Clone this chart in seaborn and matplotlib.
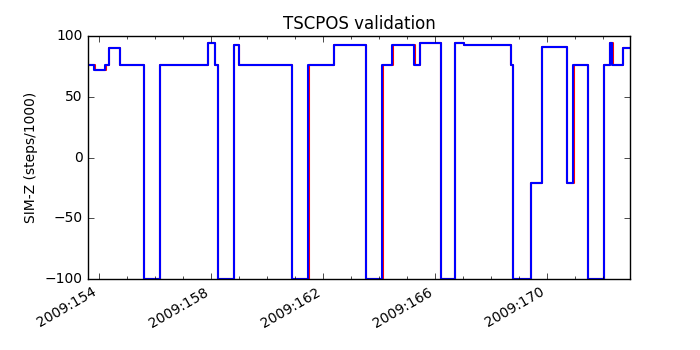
import matplotlib
matplotlib.use("Agg")
import matplotlib.pyplot as plt
import seaborn as sns
from matplotlib.ticker import FixedLocator, MultipleLocator, FuncFormatter

# day-of-year 2009 where SIM-Z changes, and the new value (steps/1000)
model_times = [153.63, 153.85, 154.24, 154.39, 154.75, 155.61, 156.20, 157.90,
               158.16, 158.26, 158.82, 159.02, 160.92, 161.49, 162.41, 163.54,
               164.13, 164.49, 165.27, 165.48, 166.22, 166.74, 167.03, 168.72,
               168.80, 169.43, 169.82, 170.73, 170.95, 171.46, 172.04, 172.26,
               172.34, 172.71, 172.97]
model_vals = [76, 72, 76, 90, 76, -100, 76, 94, 76, -100, 92, 76, -100, 76,
              92, -100, 76, 92, 76, 94, -100, 94, 92, 76, -100, -21, 91, -21,
              76, -100, 76, 94, 76, 90, 90]

telem_times = [153.63, 153.86, 154.25, 154.39, 154.76, 155.61, 156.21, 157.91,
               158.17, 158.26, 158.83, 159.03, 160.91, 161.50, 162.42, 163.54,
               164.14, 164.50, 165.28, 165.49, 166.22, 166.73, 167.04, 168.73,
               168.81, 169.44, 169.82, 170.73, 170.96, 171.47, 172.05, 172.27,
               172.35, 172.72, 172.97]
telem_vals = model_vals

major_days = [154, 158, 162, 166, 170]

plt.style.use("classic")
fig, ax = plt.subplots(figsize=(7, 3.5), dpi=100)
fig.patch.set_facecolor("white")
fig.subplots_adjust(left=0.126, right=0.9, top=0.898, bottom=0.202)

sns.lineplot(x=telem_times, y=telem_vals, drawstyle="steps-post", color="red",
             linewidth=1.5, ax=ax)
sns.lineplot(x=model_times, y=model_vals, drawstyle="steps-post", color="blue",
             linewidth=1.5, ax=ax)

ax.set_xlim(153.63, 172.97)
ax.set_ylim(-100, 100)
ax.yaxis.set_major_locator(MultipleLocator(50))
ax.xaxis.set_major_locator(FixedLocator(major_days))
ax.xaxis.set_minor_locator(MultipleLocator(1))
ax.xaxis.set_major_formatter(FuncFormatter(lambda d, pos: "2009:%03d" % int(round(d))))
ax.tick_params(labelsize=10)
for lbl in ax.get_xticklabels():
    lbl.set_rotation(30)
    lbl.set_ha("right")

ax.set_title("TSCPOS validation", fontsize=12)
ax.set_ylabel("SIM-Z (steps/1000)", fontsize=10)

fig.savefig("out.png", dpi=100, facecolor="white")
